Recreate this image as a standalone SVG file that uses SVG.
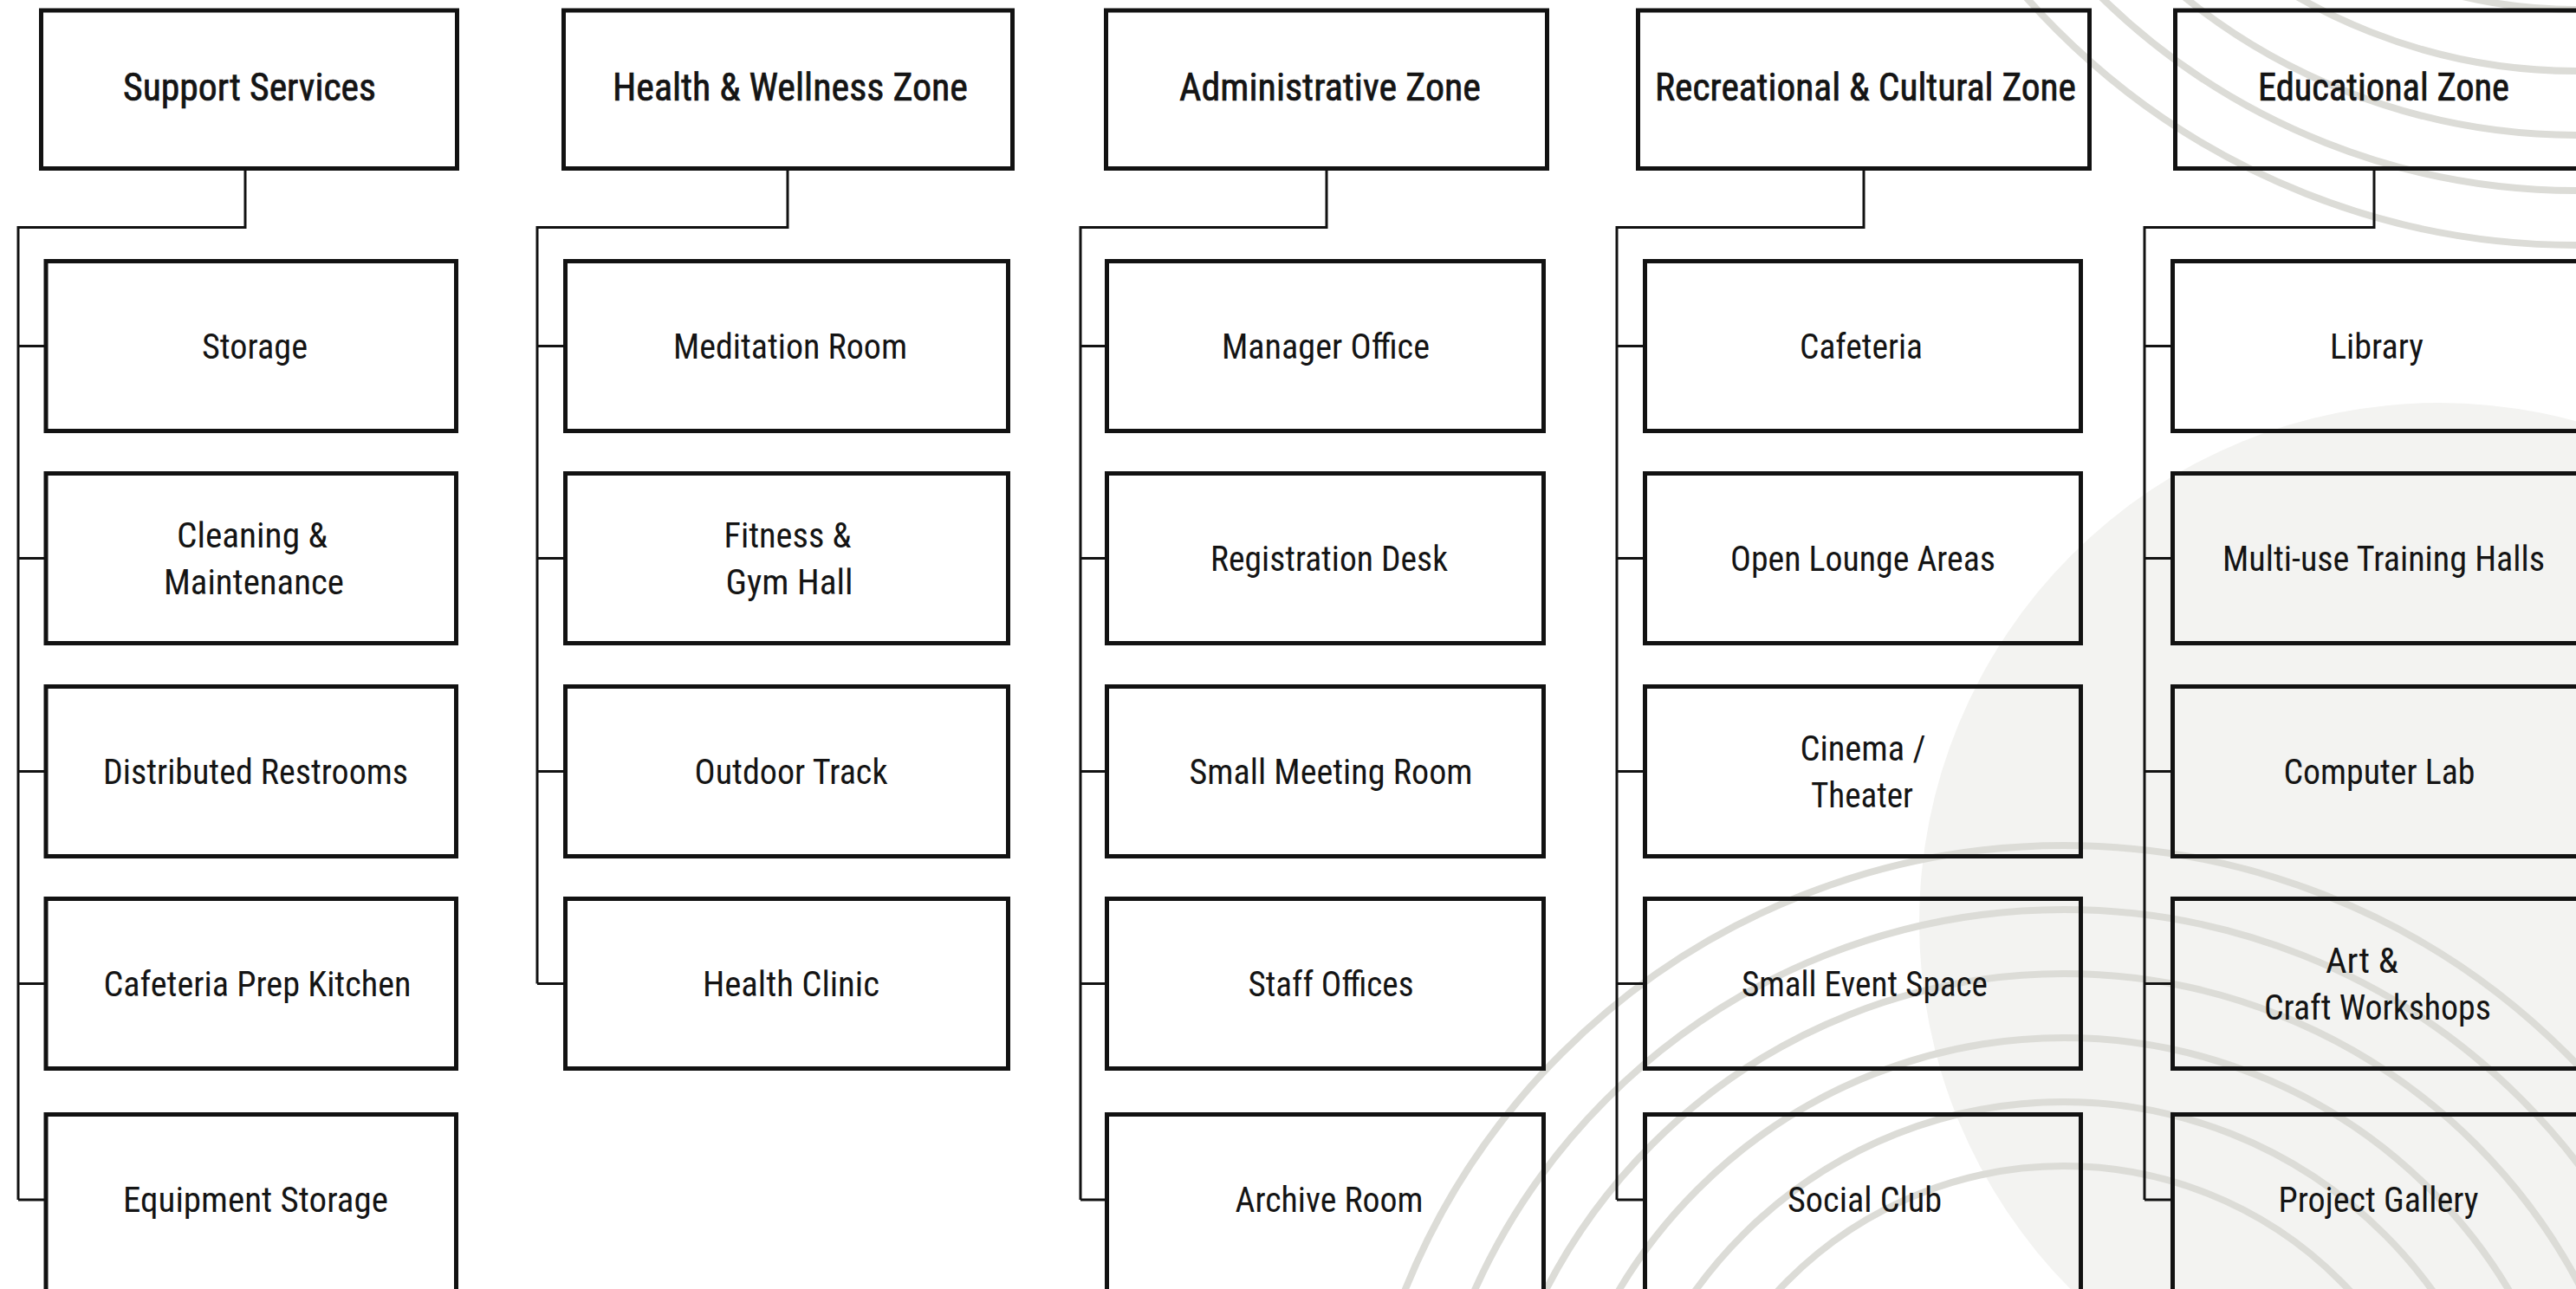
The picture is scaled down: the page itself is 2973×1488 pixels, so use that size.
<svg xmlns="http://www.w3.org/2000/svg" width="2973" height="1488" viewBox="0 0 2973 1488">
<style>
.box{fill:none;stroke:#121212;stroke-width:5}
.conn{fill:none;stroke:#121212;stroke-width:3}
.arc{fill:none;stroke:#dcdcd7;stroke-width:8}
text{font-family:"Liberation Sans Narrow","Roboto Condensed","DejaVu Sans Condensed","Liberation Sans",sans-serif;fill:#141414;text-anchor:middle}
.h{font-size:44px;stroke:#141414;stroke-width:0.7}
.c{font-size:41px}
</style>
<rect x="0" y="0" width="2973" height="1488" fill="#ffffff"/>
<g id="background">
<circle cx="2815" cy="1065" r="600" fill="#f3f3f1"/>
<circle class="arc" cx="2973" cy="-564" r="847"/>
<circle class="arc" cx="2973" cy="-564" r="784"/>
<circle class="arc" cx="2973" cy="-564" r="720"/>
<circle class="arc" cx="2973" cy="-564" r="646"/>
<circle class="arc" cx="2973" cy="-564" r="575"/>
<circle class="arc" cx="2382" cy="1796" r="820"/>
<circle class="arc" cx="2382" cy="1796" r="746"/>
<circle class="arc" cx="2382" cy="1796" r="672"/>
<circle class="arc" cx="2382" cy="1796" r="598"/>
<circle class="arc" cx="2382" cy="1796" r="524"/>
<circle class="arc" cx="2382" cy="1796" r="450"/>
</g>
<g id="connectors">
<path class="conn" d="M283,195 V262.5 H21 V1385 M21,399.5 H53 M21,644.5 H53 M21,890.5 H53 M21,1135.5 H53 M21,1385 H53"/>
<path class="conn" d="M909,195 V262.5 H620 V1135.5 M620,399.5 H652 M620,644.5 H652 M620,890.5 H652 M620,1135.5 H652"/>
<path class="conn" d="M1531,195 V262.5 H1247 V1385 M1247,399.5 H1277 M1247,644.5 H1277 M1247,890.5 H1277 M1247,1135.5 H1277 M1247,1385 H1277"/>
<path class="conn" d="M2151,195 V262.5 H1866 V1385 M1866,399.5 H1898 M1866,644.5 H1898 M1866,890.5 H1898 M1866,1135.5 H1898 M1866,1385 H1898"/>
<path class="conn" d="M2740,195 V262.5 H2475 V1385 M2475,399.5 H2507 M2475,644.5 H2507 M2475,890.5 H2507 M2475,1135.5 H2507 M2475,1385 H2507"/>
</g>
<g id="support-services">
<rect class="box" x="47.5" y="12" width="480" height="182.5"/>
<text class="h" x="288" y="116" textLength="292" lengthAdjust="spacingAndGlyphs">Support Services</text>
</g>
<g id="storage"><rect class="box" x="53" y="301.5" width="473.5" height="196"/><text class="c" x="294" y="413.5" textLength="122" lengthAdjust="spacingAndGlyphs">Storage</text></g>
<g id="cleaning-maintenance"><rect class="box" x="53" y="546.5" width="473.5" height="196"/><text class="c" x="291" y="631.5" textLength="174" lengthAdjust="spacingAndGlyphs">Cleaning &amp;</text><text class="c" x="293" y="685.5" textLength="208" lengthAdjust="spacingAndGlyphs">Maintenance</text></g>
<g id="distributed-restrooms"><rect class="box" x="53" y="792.5" width="473.5" height="196"/><text class="c" x="295" y="904.5" textLength="352" lengthAdjust="spacingAndGlyphs">Distributed Restrooms</text></g>
<g id="cafeteria-prep-kitchen"><rect class="box" x="53" y="1037.5" width="473.5" height="196"/><text class="c" x="297" y="1149.5" textLength="355" lengthAdjust="spacingAndGlyphs">Cafeteria Prep Kitchen</text></g>
<g id="equipment-storage"><rect class="box" x="53" y="1286.5" width="473.5" height="210"/><text class="c" x="295" y="1398.5" textLength="306" lengthAdjust="spacingAndGlyphs">Equipment Storage</text></g>
<g id="health-wellness-zone">
<rect class="box" x="650.5" y="12" width="518" height="182.5"/>
<text class="h" x="912" y="116" textLength="410" lengthAdjust="spacingAndGlyphs">Health &amp; Wellness Zone</text>
</g>
<g id="meditation-room"><rect class="box" x="652.5" y="301.5" width="511" height="196"/><text class="c" x="912" y="413.5" textLength="270" lengthAdjust="spacingAndGlyphs">Meditation Room</text></g>
<g id="fitness-gym-hall"><rect class="box" x="652.5" y="546.5" width="511" height="196"/><text class="c" x="909" y="631.5" textLength="147" lengthAdjust="spacingAndGlyphs">Fitness &amp;</text><text class="c" x="911" y="685.5" textLength="147" lengthAdjust="spacingAndGlyphs">Gym Hall</text></g>
<g id="outdoor-track"><rect class="box" x="652.5" y="792.5" width="511" height="196"/><text class="c" x="913" y="904.5" textLength="223" lengthAdjust="spacingAndGlyphs">Outdoor Track</text></g>
<g id="health-clinic"><rect class="box" x="652.5" y="1037.5" width="511" height="196"/><text class="c" x="913" y="1149.5" textLength="204" lengthAdjust="spacingAndGlyphs">Health Clinic</text></g>
<g id="administrative-zone">
<rect class="box" x="1276.5" y="12" width="509" height="182.5"/>
<text class="h" x="1535" y="116" textLength="348" lengthAdjust="spacingAndGlyphs">Administrative Zone</text>
</g>
<g id="manager-office"><rect class="box" x="1277.5" y="301.5" width="504" height="196"/><text class="c" x="1530" y="413.5" textLength="240" lengthAdjust="spacingAndGlyphs">Manager Office</text></g>
<g id="registration-desk"><rect class="box" x="1277.5" y="546.5" width="504" height="196"/><text class="c" x="1534" y="658.5" textLength="274" lengthAdjust="spacingAndGlyphs">Registration Desk</text></g>
<g id="small-meeting-room"><rect class="box" x="1277.5" y="792.5" width="504" height="196"/><text class="c" x="1536" y="904.5" textLength="327" lengthAdjust="spacingAndGlyphs">Small Meeting Room</text></g>
<g id="staff-offices"><rect class="box" x="1277.5" y="1037.5" width="504" height="196"/><text class="c" x="1536" y="1149.5" textLength="191" lengthAdjust="spacingAndGlyphs">Staff Offices</text></g>
<g id="archive-room"><rect class="box" x="1277.5" y="1286.5" width="504" height="210"/><text class="c" x="1534" y="1398.5" textLength="217" lengthAdjust="spacingAndGlyphs">Archive Room</text></g>
<g id="recreational-cultural-zone">
<rect class="box" x="1890.5" y="12" width="521" height="182.5"/>
<text class="h" x="2153" y="116" textLength="486" lengthAdjust="spacingAndGlyphs">Recreational &amp; Cultural Zone</text>
</g>
<g id="cafeteria"><rect class="box" x="1898.5" y="301.5" width="503" height="196"/><text class="c" x="2148" y="413.5" textLength="142" lengthAdjust="spacingAndGlyphs">Cafeteria</text></g>
<g id="open-lounge-areas"><rect class="box" x="1898.5" y="546.5" width="503" height="196"/><text class="c" x="2150" y="658.5" textLength="306" lengthAdjust="spacingAndGlyphs">Open Lounge Areas</text></g>
<g id="cinema-theater"><rect class="box" x="1898.5" y="792.5" width="503" height="196"/><text class="c" x="2150" y="877.5" textLength="145" lengthAdjust="spacingAndGlyphs">Cinema /</text><text class="c" x="2149" y="931.5" textLength="118" lengthAdjust="spacingAndGlyphs">Theater</text></g>
<g id="small-event-space"><rect class="box" x="1898.5" y="1037.5" width="503" height="196"/><text class="c" x="2152" y="1149.5" textLength="284" lengthAdjust="spacingAndGlyphs">Small Event Space</text></g>
<g id="social-club"><rect class="box" x="1898.5" y="1286.5" width="503" height="210"/><text class="c" x="2152" y="1398.5" textLength="178" lengthAdjust="spacingAndGlyphs">Social Club</text></g>
<g id="educational-zone">
<rect class="box" x="2510.5" y="12" width="484" height="182.5"/>
<text class="h" x="2751" y="116" textLength="290" lengthAdjust="spacingAndGlyphs">Educational Zone</text>
</g>
<g id="library"><rect class="box" x="2507.5" y="301.5" width="482" height="196"/><text class="c" x="2743" y="413.5" textLength="108" lengthAdjust="spacingAndGlyphs">Library</text></g>
<g id="multi-use-training-halls"><rect class="box" x="2507.5" y="546.5" width="482" height="196"/><text class="c" x="2751" y="658.5" textLength="372" lengthAdjust="spacingAndGlyphs">Multi-use Training Halls</text></g>
<g id="computer-lab"><rect class="box" x="2507.5" y="792.5" width="482" height="196"/><text class="c" x="2746" y="904.5" textLength="221" lengthAdjust="spacingAndGlyphs">Computer Lab</text></g>
<g id="art-craft-workshops"><rect class="box" x="2507.5" y="1037.5" width="482" height="196"/><text class="c" x="2726" y="1122.5" textLength="84" lengthAdjust="spacingAndGlyphs">Art &amp;</text><text class="c" x="2744" y="1176.5" textLength="262" lengthAdjust="spacingAndGlyphs">Craft Workshops</text></g>
<g id="project-gallery"><rect class="box" x="2507.5" y="1286.5" width="482" height="210"/><text class="c" x="2745" y="1398.5" textLength="231" lengthAdjust="spacingAndGlyphs">Project Gallery</text></g>
</svg>
